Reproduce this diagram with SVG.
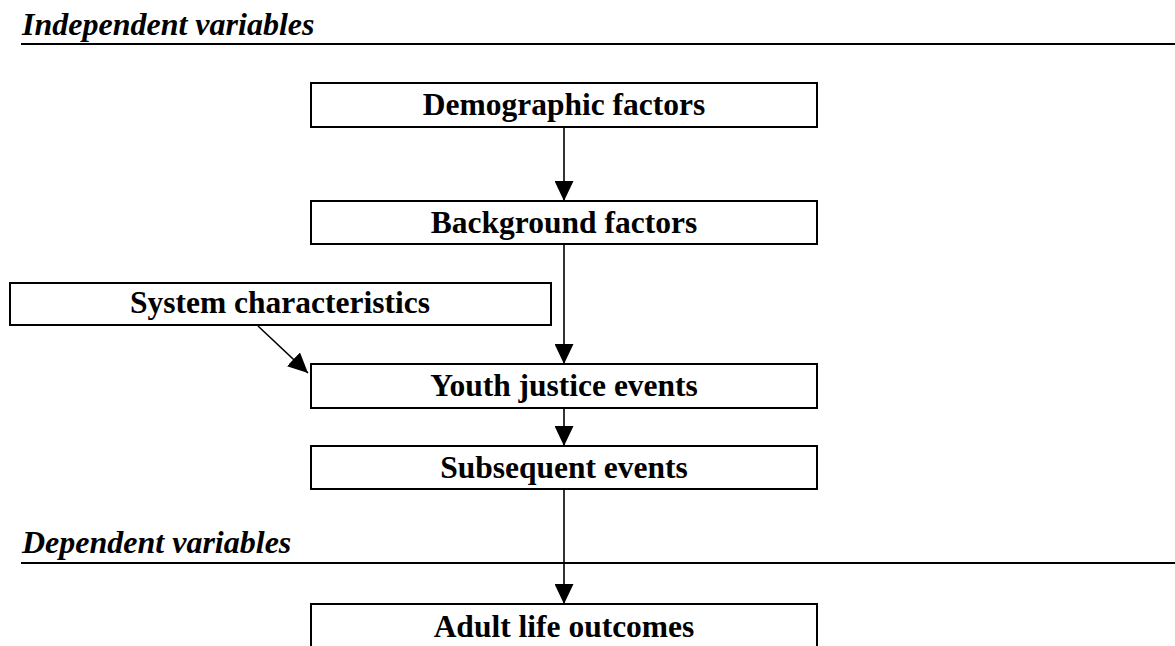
<svg xmlns="http://www.w3.org/2000/svg" width="1175" height="646" viewBox="0 0 1175 646">
<style>
.box{fill:#fff;stroke:#000;stroke-width:2}
.lbl{font-family:"Liberation Serif","Times New Roman",serif;font-weight:bold;font-size:31.5px;fill:#000;text-anchor:middle}
.hd{font-family:"Liberation Serif","Times New Roman",serif;font-weight:bold;font-style:italic;font-size:32px;fill:#000}
.rule{stroke:#000;stroke-width:2.2}
.con{stroke:#000;stroke-width:1.6;fill:none}
</style>
<defs>
<marker id="ah" markerUnits="userSpaceOnUse" markerWidth="21" markerHeight="19" refX="20" refY="9.5" orient="auto" viewBox="0 0 21 19">
<path d="M0,0 L20,9.5 L0,19 z" fill="#000"/>
</marker>
</defs>
<rect width="1175" height="646" fill="#fff"/>
<g id="heading-independent">
<text class="hd" x="22" y="35">Independent variables</text>
<line class="rule" x1="21" y1="44" x2="1175" y2="44"/>
</g>
<g id="heading-dependent">
<text class="hd" x="22" y="553">Dependent variables</text>
<line class="rule" x1="21" y1="563" x2="1175" y2="563"/>
</g>
<g id="connectors">
<line class="con" x1="564" y1="127" x2="564" y2="201" marker-end="url(#ah)"/>
<line class="con" x1="564" y1="244" x2="564" y2="364" marker-end="url(#ah)"/>
<line class="con" x1="564" y1="408" x2="564" y2="446" marker-end="url(#ah)"/>
<line class="con" x1="564" y1="489" x2="564" y2="604" marker-end="url(#ah)"/>
<line class="con" x1="258" y1="326" x2="308" y2="373" marker-end="url(#ah)"/>
</g>
<g id="demographic">
<rect class="box" x="311" y="83" width="506" height="44"/>
<text class="lbl" x="564" y="115">Demographic factors</text>
</g>
<g id="background">
<rect class="box" x="311" y="201" width="506" height="43"/>
<text class="lbl" x="564" y="233">Background factors</text>
</g>
<g id="system">
<rect class="box" x="10" y="283" width="541" height="42"/>
<text class="lbl" x="280" y="313">System characteristics</text>
</g>
<g id="youth">
<rect class="box" x="311" y="364" width="506" height="44"/>
<text class="lbl" x="564" y="396">Youth justice events</text>
</g>
<g id="subsequent">
<rect class="box" x="311" y="446" width="506" height="43"/>
<text class="lbl" x="564" y="478">Subsequent events</text>
</g>
<g id="adult">
<rect class="box" x="311" y="604" width="506" height="60"/>
<text class="lbl" x="564" y="637">Adult life outcomes</text>
</g>
</svg>
